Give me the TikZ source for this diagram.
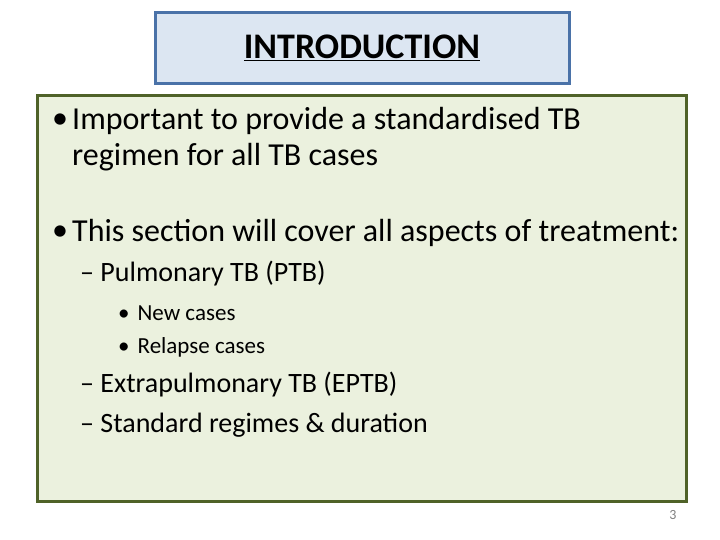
\documentclass[tikz,border=0pt]{standalone}
\usepackage{fontspec}
\setmainfont{Carlito}
\usetikzlibrary{positioning}
\definecolor{titlefill}{HTML}{DCE6F2}
\definecolor{titleline}{HTML}{4A72A8}
\definecolor{bodyfill}{HTML}{EBF1DE}
\definecolor{bodyline}{HTML}{4F6228}
\tikzset{
  lvlone/.style={anchor=west,inner sep=0pt,font=\fontsize{32}{38}\selectfont},
  lvltwo/.style={anchor=west,inner sep=0pt,font=\fontsize{28}{33}\selectfont},
  lvlthree/.style={anchor=west,inner sep=0pt,font=\fontsize{23}{27}\selectfont}
}
\begin{document}
\begin{tikzpicture}[x=1pt,y=-1pt]
\useasboundingbox (0,0) rectangle (720,540);
\node[draw=titleline,fill=titlefill,line width=3pt,minimum width=414pt,minimum height=71pt] (title) at (362,48)
  {\fontsize{36}{40}\selectfont\bfseries\underline{INTRODUCTION}};
\node[draw=bodyline,fill=bodyfill,line width=3pt,minimum width=649pt,minimum height=405pt] (body) at (361.5,298.5) {};

\node[lvlone] (b1) at (52,121) {•};
\node[lvlone] (t1) at (72,121) {Important to provide a standardised TB};
\node[lvlone] (t1b) at (72,157) {regimen for all TB cases};
\node[lvlone] (b2) at (52,233) {•};
\node[lvlone] (t2) at (72,233) {This section will cover all aspects of treatment:};
\node[lvltwo] (s1) at (80,274) {– Pulmonary TB (PTB)};
\node[lvlthree] (c1) at (118,313) {•\hspace{8pt}New cases};
\node[lvlthree] (c2) at (118,347) {•\hspace{8pt}Relapse cases};
\node[lvltwo] (s2) at (80,385) {– Extrapulmonary TB (EPTB)};
\node[lvltwo] (s3) at (80,425) {– Standard regimes \& duration};
\node[inner sep=0pt,text=gray,font=\fontsize{14}{16}\selectfont] (page) at (673,515) {3};
\end{tikzpicture}
\end{document}
